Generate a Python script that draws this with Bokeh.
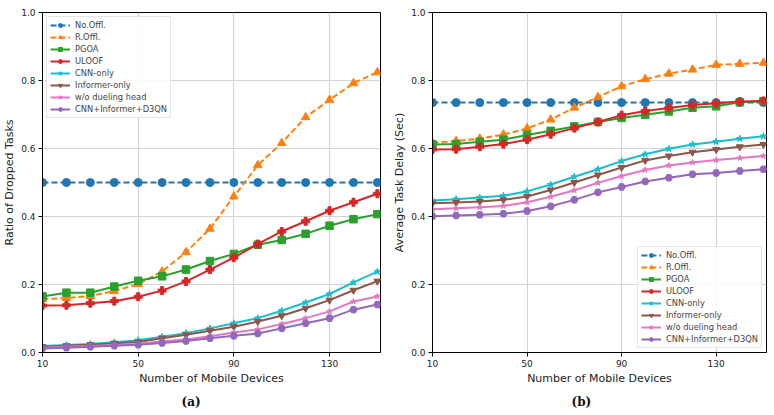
from bokeh.plotting import figure
from bokeh.layouts import row
from bokeh.models import Range1d, FixedTicker, PrintfTickFormatter, Title
from bokeh.embed import file_html
from bokeh.resources import INLINE

devices = [10, 20, 30, 40, 50, 60, 70, 80, 90, 100, 110, 120, 130, 140, 150]
x_ticks = [10, 50, 90, 130]
y_ticks = [0.0, 0.2, 0.4, 0.6, 0.8, 1.0]

series_names = ["No.Offl.", "R.Offl.", "PGOA", "ULOOF", "CNN-only",
                "Informer-only", "w/o dueling head", "CNN+Informer+D3QN"]

# (a) Ratio of dropped tasks
drop_no_offl = [0.5] * 15
drop_r_offl = [0.157, 0.160, 0.166, 0.181, 0.201, 0.238, 0.295, 0.364, 0.459, 0.551, 0.616, 0.692, 0.743, 0.792, 0.824]
drop_pgoa = [0.165, 0.176, 0.176, 0.194, 0.211, 0.224, 0.244, 0.269, 0.290, 0.317, 0.331, 0.349, 0.373, 0.392, 0.407]
drop_uloof = [0.138, 0.139, 0.145, 0.151, 0.164, 0.182, 0.209, 0.244, 0.279, 0.319, 0.356, 0.386, 0.417, 0.442, 0.467]
drop_cnn = [0.019, 0.022, 0.025, 0.030, 0.036, 0.046, 0.057, 0.071, 0.086, 0.101, 0.123, 0.147, 0.172, 0.206, 0.238]
drop_informer = [0.017, 0.020, 0.023, 0.027, 0.031, 0.042, 0.052, 0.064, 0.076, 0.091, 0.108, 0.130, 0.154, 0.183, 0.210]
drop_nodueling = [0.014, 0.017, 0.019, 0.022, 0.025, 0.033, 0.038, 0.048, 0.059, 0.068, 0.084, 0.101, 0.121, 0.150, 0.165]
drop_full = [0.012, 0.014, 0.017, 0.020, 0.023, 0.028, 0.034, 0.042, 0.049, 0.056, 0.071, 0.086, 0.101, 0.126, 0.141]

# (b) Average task delay (s)
delay_no_offl = [0.735] * 15
delay_r_offl = [0.617, 0.622, 0.629, 0.641, 0.659, 0.685, 0.720, 0.751, 0.783, 0.804, 0.820, 0.832, 0.846, 0.849, 0.852]
delay_pgoa = [0.612, 0.613, 0.620, 0.626, 0.640, 0.652, 0.665, 0.678, 0.690, 0.699, 0.709, 0.720, 0.724, 0.736, 0.739]
delay_uloof = [0.597, 0.598, 0.605, 0.613, 0.626, 0.642, 0.660, 0.678, 0.698, 0.710, 0.719, 0.728, 0.733, 0.738, 0.740]
delay_cnn = [0.447, 0.451, 0.456, 0.461, 0.474, 0.494, 0.517, 0.539, 0.563, 0.583, 0.599, 0.612, 0.620, 0.629, 0.636]
delay_informer = [0.439, 0.441, 0.444, 0.449, 0.459, 0.478, 0.500, 0.522, 0.544, 0.565, 0.578, 0.589, 0.597, 0.605, 0.612]
delay_nodueling = [0.421, 0.424, 0.427, 0.431, 0.442, 0.458, 0.477, 0.499, 0.519, 0.537, 0.550, 0.559, 0.566, 0.572, 0.578]
delay_full = [0.401, 0.403, 0.405, 0.408, 0.416, 0.430, 0.449, 0.471, 0.487, 0.503, 0.514, 0.524, 0.528, 0.534, 0.539]

colors = ["#1f77b4", "#ff7f0e", "#2ca02c", "#d62728", "#17becf", "#8c564b", "#e377c2", "#9467bd"]
markers = ["circle", "triangle", "square", "plus", "star", "inverted_triangle", "star", "hex"]
msizes = [8, 8.5, 7.5, 8, 7, 7, 6, 7.5]
dashes = ["6 3", "6 3", "solid", "solid", "solid", "solid", "solid", "solid"]

FONT = "DejaVu Sans"


def make_fig(ylabel, series, legend_loc, width, left, right, caption, cap_offset):
    p = figure(width=width, height=415, output_backend="svg", toolbar_location=None,
               x_range=Range1d(10, 151.3), y_range=Range1d(0, 1),
               min_border_left=left, min_border_right=right,
               min_border_top=12, min_border_bottom=63)
    for name, ys, c, m, s, d in zip(series_names, series, colors, markers, msizes, dashes):
        p.line(devices, ys, line_color=c, line_width=2, line_dash=d, legend_label=name)
        p.scatter(devices, ys, marker=m, size=s, fill_color=c, line_color=c, legend_label=name)
    p.outline_line_color = "black"
    p.outline_line_width = 1
    for ax in (p.xaxis[0], p.yaxis[0]):
        ax.major_label_text_font = FONT
        ax.major_label_text_font_size = "9px"
        ax.major_label_text_color = "#222222"
        ax.axis_label_text_font = FONT
        ax.axis_label_text_font_size = "11px"
        ax.axis_label_text_font_style = "normal"
        ax.axis_label_text_color = "#222222"
        ax.major_tick_in = 0
        ax.major_tick_out = 4
        ax.minor_tick_line_color = None
        ax.axis_line_color = "black"
        ax.major_label_standoff = 3
        ax.axis_label_standoff = 2
    p.xaxis[0].ticker = FixedTicker(ticks=x_ticks)
    p.yaxis[0].ticker = FixedTicker(ticks=y_ticks)
    p.yaxis[0].formatter = PrintfTickFormatter(format="%.1f")
    p.xaxis[0].axis_label = "Number of Mobile Devices"
    p.yaxis[0].axis_label = ylabel
    p.grid.grid_line_color = "#d4d4d4"
    p.grid.grid_line_width = 1.2
    lg = p.legend[0]
    lg.location = legend_loc
    lg.label_text_font = FONT
    lg.label_text_font_size = "8.3px"
    lg.label_height = 10
    lg.glyph_height = 10
    lg.glyph_width = 20
    lg.spacing = 2
    lg.padding = 3
    lg.margin = 4
    lg.label_standoff = 5
    lg.border_line_color = "#cccccc"
    lg.background_fill_alpha = 0.85
    p.add_layout(Title(text=caption, align="left", offset=cap_offset,
                       text_font="DejaVu Serif", text_font_style="bold",
                       text_font_size="12px", text_color="#111111", standoff=11), "below")
    return p


p1 = make_fig("Ratio of Dropped Tasks",
              [drop_no_offl, drop_r_offl, drop_pgoa, drop_uloof, drop_cnn, drop_informer, drop_nodueling, drop_full],
              "top_left", 390, 41, 10, "(a)", 139)
p2 = make_fig("Average Task Delay (Sec)",
              [delay_no_offl, delay_r_offl, delay_pgoa, delay_uloof, delay_cnn, delay_informer, delay_nodueling, delay_full],
              "bottom_right", 384, 38, 8, "(b)", 139)

layout = row(p1, p2)
open("out.html", "w").write(file_html(layout, INLINE))
